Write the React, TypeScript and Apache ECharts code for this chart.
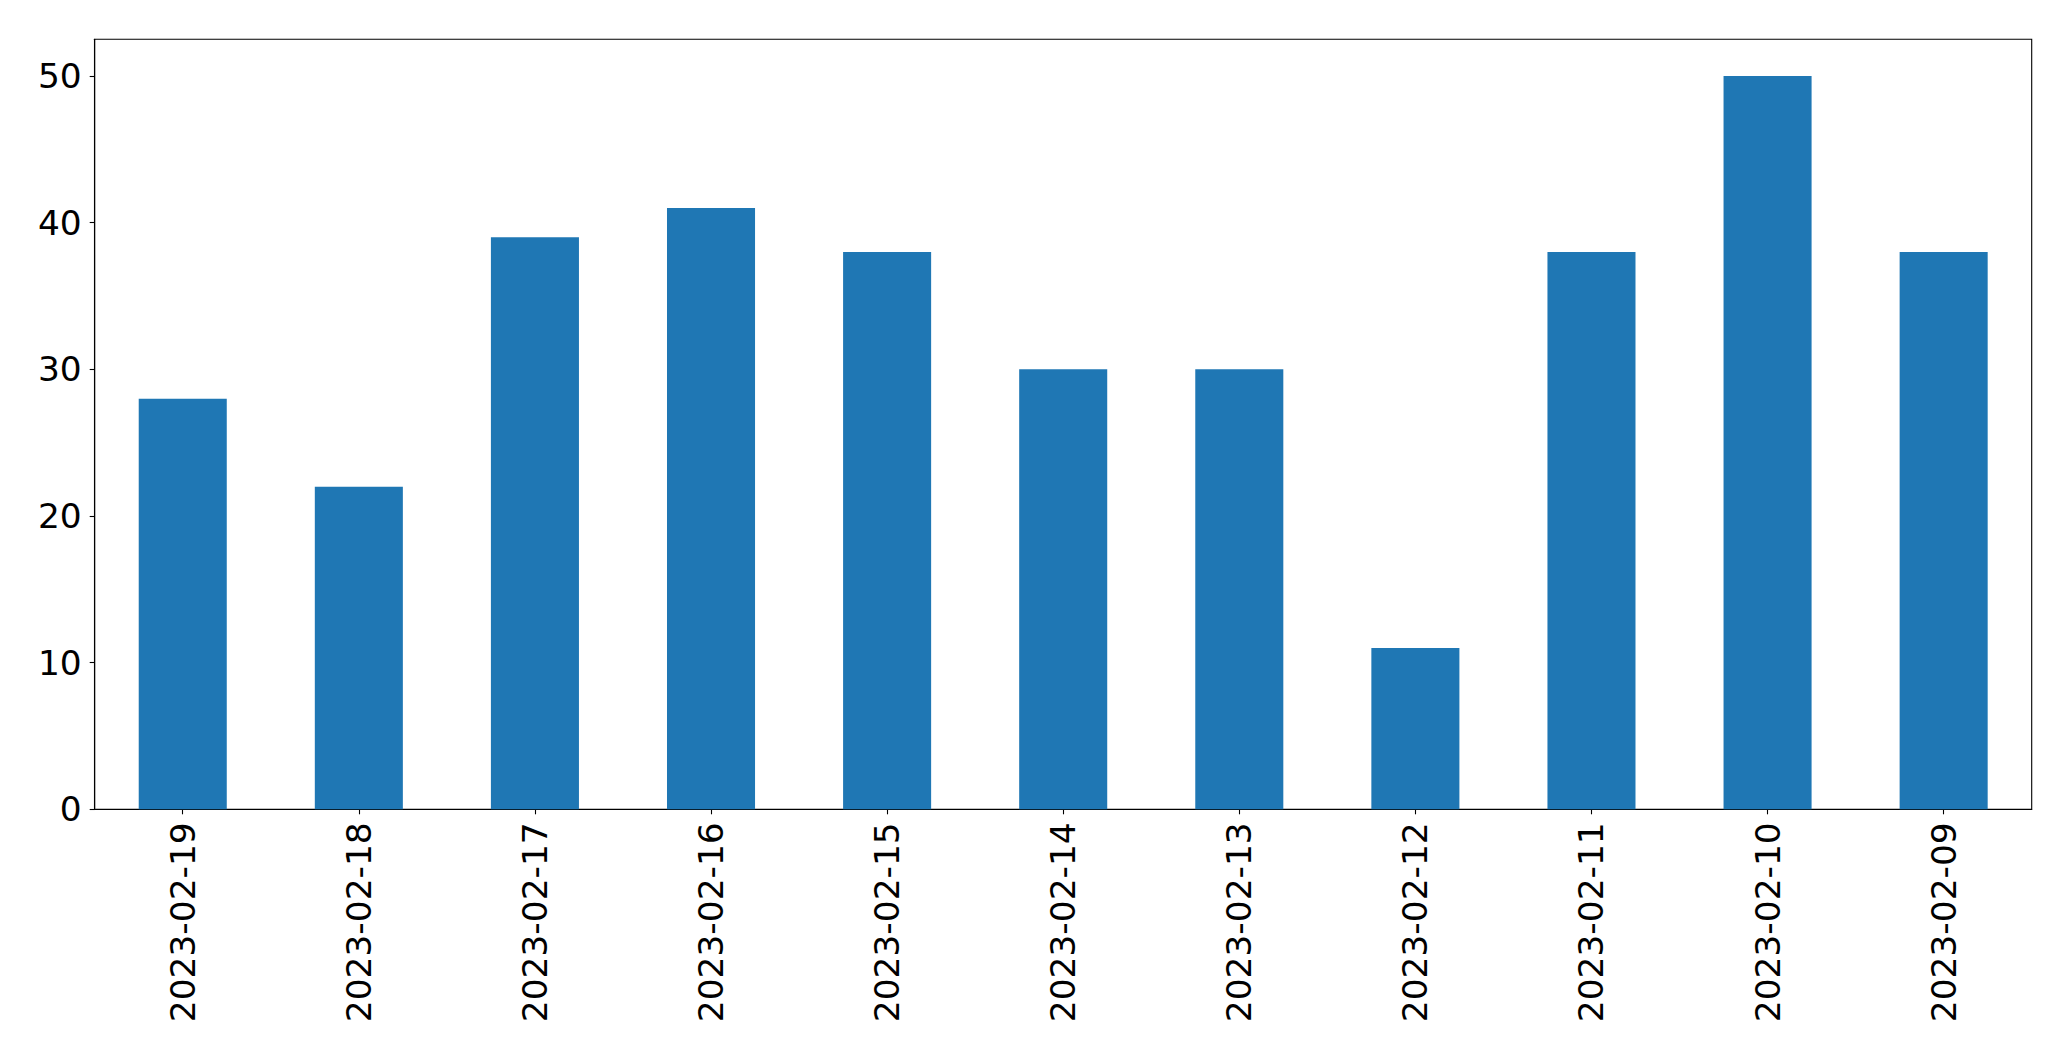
import React, { useEffect, useRef } from "react";
import * as echarts from "echarts";

const categories = [
  "2023-02-19",
  "2023-02-18",
  "2023-02-17",
  "2023-02-16",
  "2023-02-15",
  "2023-02-14",
  "2023-02-13",
  "2023-02-12",
  "2023-02-11",
  "2023-02-10",
  "2023-02-09",
];
const values = [28, 22, 39, 41, 38, 30, 30, 11, 38, 50, 38];
const yMin = 0;
const yMax = 52.5;
const yInterval = 10;

export default function App() {
  const ref = useRef<HTMLDivElement>(null);
  useEffect(() => {
    if (!ref.current) return;
    const chart = echarts.init(ref.current, undefined, { renderer: "svg" });
    const font = "DejaVu Sans";
    chart.setOption({
      animation: false,
      backgroundColor: "#ffffff",
      grid: {
        left: 94.7,
        right: 39.3,
        top: 39.3,
        bottom: 251.7,
        show: true,
        borderColor: "#000000",
        borderWidth: 1.1,
        containLabel: false,
      },
      xAxis: {
        type: "category",
        data: categories,
        boundaryGap: true,
        axisLine: { show: true, lineStyle: { color: "#000000", width: 1.1 } },
        axisTick: {
          show: true,
          alignWithLabel: true,
          length: 5,
          lineStyle: { color: "#000000", width: 1.1 },
        },
        axisLabel: {
          rotate: 90,
          interval: 0,
          margin: 13,
          fontSize: 34.4,
          fontFamily: font,
          color: "#000000",
        },
        splitLine: { show: false },
      },
      yAxis: {
        type: "value",
        min: yMin,
        max: yMax,
        interval: yInterval,
        axisLine: { show: true, lineStyle: { color: "#000000", width: 1.1 } },
        axisTick: {
          show: true,
          length: 5,
          lineStyle: { color: "#000000", width: 1.1 },
        },
        axisLabel: {
          margin: 13,
          fontSize: 34.4,
          fontFamily: font,
          color: "#000000",
          showMaxLabel: false,
          formatter: (v: number) => (v % 10 === 0 ? String(v) : ""),
        },
        splitLine: { show: false },
      },
      series: [
        {
          type: "bar",
          data: values,
          barWidth: "50%",
          itemStyle: { color: "#1f77b4" },
        },
      ],
    });
    return () => chart.dispose();
  }, []);
  return (
    <div
      ref={ref}
      style={{ position: "fixed", left: 0, top: 0, width: 2071, height: 1061 }}
    />
  );
}
